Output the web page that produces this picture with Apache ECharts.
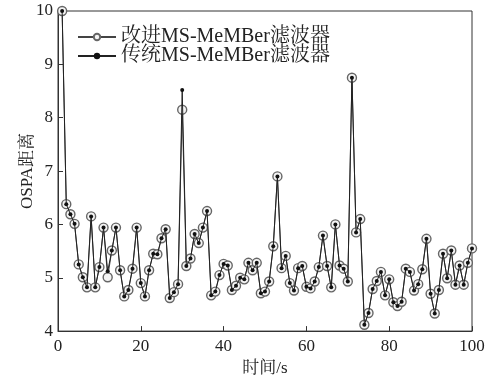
<!DOCTYPE html>
<html>
<head>
<meta charset="utf-8">
<script src="https://cdn.jsdelivr.net/npm/echarts@6/dist/echarts.min.js"></script>
<style>
  html, body { margin: 0; padding: 0; background: #fff; }
  #chart { width: 498px; height: 382px; }
</style>
</head>
<body>
<div id="chart"></div>
<script>
// 图例名称
const seriesNames = ['改进MS-MeMBer滤波器', '传统MS-MeMBer滤波器']

// 改进方法 OSPA 距离 (t = 1..100 s)
const improved = [
  10.0, 6.38, 6.19, 6.01, 5.25, 5.01, 4.82, 6.15, 4.82, 5.2,
  5.94, 5.01, 5.51, 5.94, 5.14, 4.65, 4.77, 5.17, 5.94, 4.9,
  4.65, 5.14, 5.45, 5.44, 5.74, 5.91, 4.62, 4.73, 4.88, 8.15,
  5.22, 5.36, 5.82, 5.65, 5.94, 6.25, 4.67, 4.74, 5.05, 5.26,
  5.23, 4.77, 4.85, 5.0, 4.97, 5.28, 5.14, 5.28, 4.71, 4.74,
  4.93, 5.59, 6.9, 5.18, 5.41, 4.9, 4.76, 5.18, 5.22, 4.83,
  4.8, 4.93, 5.2, 5.79, 5.22, 4.82, 6.0, 5.23, 5.17, 4.93,
  8.75, 5.85, 6.1, 4.12, 4.34, 4.79, 4.94, 5.11, 4.67, 4.97,
  4.54, 4.47, 4.55, 5.17, 5.11, 4.76, 4.88, 5.16, 5.73, 4.7,
  4.33, 4.77, 5.45, 4.99, 5.51, 4.87, 5.23, 4.87, 5.28, 5.55
]

// 传统方法 OSPA 距离
const traditional = [
  10.0, 6.38, 6.19, 6.01, 5.25, 5.01, 4.82, 6.15, 4.82, 5.2,
  5.94, 5.12, 5.51, 5.94, 5.14, 4.65, 4.77, 5.17, 5.94, 4.9,
  4.65, 5.14, 5.45, 5.44, 5.74, 5.91, 4.62, 4.73, 4.88, 8.52,
  5.22, 5.36, 5.82, 5.65, 5.94, 6.25, 4.67, 4.74, 5.05, 5.26,
  5.23, 4.77, 4.85, 5.0, 4.97, 5.28, 5.14, 5.28, 4.71, 4.74,
  4.93, 5.59, 6.9, 5.18, 5.41, 4.9, 4.76, 5.18, 5.22, 4.83,
  4.8, 4.93, 5.2, 5.79, 5.22, 4.82, 6.0, 5.23, 5.17, 4.93,
  8.75, 5.85, 6.1, 4.12, 4.34, 4.79, 4.94, 5.11, 4.67, 4.97,
  4.54, 4.47, 4.55, 5.17, 5.11, 4.76, 4.88, 5.16, 5.73, 4.7,
  4.33, 4.77, 5.45, 4.99, 5.51, 4.87, 5.23, 4.87, 5.28, 5.55
]

// 坐标轴刻度
const xTicks = [0, 20, 40, 60, 80, 100]
const yTicks = [4, 5, 6, 7, 8, 9, 10]

const font = "'Liberation Serif', 'Noto Serif CJK SC', 'Noto Sans CJK SC', serif"
const toPairs = arr => arr.map((v, i) => [i + 1, v]) // 时间从1s开始

const myChart = echarts.init(document.getElementById('chart'))
const options = {
  animation: false,
  grid: {
    left: 58,
    right: 26,
    top: 11,
    bottom: 45,
    show: true,
    borderColor: '#333',
    borderWidth: 1
  },
  legend: {
    orient: 'vertical',
    left: 72,
    top: 22,
    itemWidth: 38,
    itemHeight: 8,
    itemGap: -1,
    textStyle: { fontFamily: font, fontSize: 20, color: '#222' },
    data: seriesNames
  },
  xAxis: {
    type: 'value',
    min: xTicks[0],
    max: xTicks[xTicks.length - 1],
    interval: 20,
    name: '时间/s',
    nameLocation: 'middle',
    nameGap: 28,
    nameTextStyle: { fontFamily: font, fontSize: 17, color: '#222' },
    axisLine: { lineStyle: { color: '#333' } },
    axisTick: { inside: true, length: 5, lineStyle: { color: '#333' } },
    axisLabel: { fontFamily: font, fontSize: 17, color: '#222', margin: 7 },
    splitLine: { show: false }
  },
  yAxis: {
    type: 'value',
    min: yTicks[0],
    max: yTicks[yTicks.length - 1],
    interval: 1,
    name: 'OSPA距离',
    nameLocation: 'middle',
    nameGap: 22,
    nameMoveOverlap: false,
    nameTextStyle: { fontFamily: font, fontSize: 17, color: '#222' },
    axisLine: { lineStyle: { color: '#333' } },
    axisTick: { inside: true, length: 5, lineStyle: { color: '#333' } },
    axisLabel: { fontFamily: font, fontSize: 17, color: '#222', margin: 5 },
    splitLine: { show: false }
  },
  series: [
    {
      name: seriesNames[0],
      type: 'line',
      data: toPairs(improved),
      symbol: 'circle',
      symbolSize: 9,
      itemStyle: { color: '#f4f4f4', borderColor: '#666', borderWidth: 1.4 },
      lineStyle: { color: '#444', width: 1 },
      z: 2
    },
    {
      name: seriesNames[1],
      type: 'line',
      data: toPairs(traditional),
      symbol: 'circle',
      symbolSize: 4,
      itemStyle: { color: '#111', borderWidth: 0 },
      lineStyle: { color: '#222', width: 1 },
      z: 3
    }
  ]
}
myChart.setOption(options)
</script>
</body>
</html>
